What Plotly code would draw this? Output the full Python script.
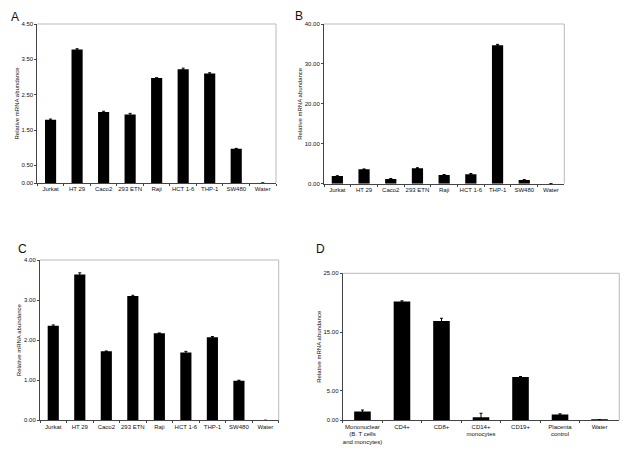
import plotly.graph_objects as go

cells_abc = ["Jurkat", "HT 29", "Caco2", "293 ETN", "Raji", "HCT 1-6", "THP-1", "SW480", "Water"]
vals_a = [1.79, 3.78, 2.01, 1.94, 2.97, 3.22, 3.10, 0.97, 0.0]
err_a = [0.02, 0.02, 0.02, 0.03, 0.01, 0.03, 0.02, 0.01, 0.0]
vals_b = [1.9, 3.6, 1.2, 3.9, 2.2, 2.35, 34.7, 0.93, 0.0]
err_b = [0.1, 0.1, 0.1, 0.1, 0.1, 0.2, 0.2, 0.1, 0.0]
vals_c = [2.36, 3.64, 1.72, 3.10, 2.17, 1.69, 2.07, 0.99, 0.0]
err_c = [0.02, 0.04, 0.01, 0.02, 0.01, 0.03, 0.02, 0.01, 0.0]
cells_d = ["Mononuclear<br>(B. T cells<br>and moncytes)", "CD4+", "CD8+", "CD14+<br>monocytes",
           "CD19+", "Placenta<br>control", "Water"]
vals_d = [1.5, 20.2, 16.9, 0.5, 7.35, 1.0, 0.02]
err_d = [0.25, 0.12, 0.45, 0.7, 0.1, 0.1, 0.1]

ticks_a = [0, 0.5, 1.5, 2.5, 3.5, 4.5]
ticks_b = [0, 10, 20, 30, 40]
ticks_c = [0, 1, 2, 3, 4]
ticks_d = [0, 5, 15, 25]
y_title = "Relative mRNA abundance"

OFF = 8  # page body margin
W, H = 630 - OFF, 452 - OFF
FONT = "Liberation Sans, Arial, sans-serif"

def px_x(a, b):
    return [(a - OFF) / W, (b - OFF) / W]

def px_y(top, bot):
    return [1 - (bot - OFF) / H, 1 - (top - OFF) / H]

panels = [
    (cells_abc, vals_a, err_a, ticks_a, [0, 4.5], (37.3, 276), (24, 183), 17),
    (cells_abc, vals_b, err_b, ticks_b, [0, 40], (324, 564.3), (24, 183.7), 300),
    (cells_abc, vals_c, err_c, ticks_c, [0, 4], (40, 278.7), (260, 420.3), 19),
    (cells_d, vals_d, err_d, ticks_d, [0, 25], (342.7, 619.3), (273.3, 420.3), 319),
]

fig = go.Figure()
layout = dict(
    width=W, height=H,
    margin=dict(l=0, r=0, t=0, b=0),
    paper_bgcolor="white", plot_bgcolor="white",
    showlegend=False,
    font=dict(family=FONT, size=6, color="#111"),
    bargap=0.58,
)
shapes = []
annotations = []
for i, (cats, vals, errs, ticks, rng, xd, yd, tx) in enumerate(panels):
    n = "" if i == 0 else str(i + 1)
    fig.add_trace(go.Bar(
        x=cats, y=vals, xaxis="x" + n, yaxis="y" + n,
        marker=dict(color="black", line=dict(width=0)),
        error_y=dict(type="data", array=errs, visible=True, color="black", thickness=1, width=1.5),
    ))
    layout["xaxis" + n] = dict(
        domain=px_x(*xd), anchor="y" + n, type="category",
        showline=True, linecolor="#444", linewidth=1,
        ticks="outside", ticklen=2, tickcolor="#444", tickson="boundaries",
        tickangle=0, automargin=False,
        showgrid=False, tickfont=dict(size=6, color="#111"), fixedrange=True,
    )
    layout["yaxis" + n] = dict(
        domain=px_y(*yd), anchor="x" + n, range=rng, automargin=False,
        tickvals=ticks, ticktext=[f"{t:.2f}" for t in ticks],
        showline=True, linecolor="#444", linewidth=1,
        ticks="outside", ticklen=2, tickcolor="#444",
        showgrid=False, zeroline=False, tickfont=dict(size=6, color="#111"),
    )
    annotations.append(dict(
        text=y_title, textangle=-90, x=(tx - OFF) / W, y=1 - ((yd[0] + yd[1]) / 2 - OFF) / H,
        xref="paper", yref="paper", showarrow=False, xanchor="center", yanchor="middle",
        font=dict(size=6, color="#111", family=FONT)))
    xr = "x" + n + " domain"
    yr = "y" + n + " domain"
    shapes.append(dict(type="line", xref=xr, yref=yr, x0=0, x1=1, y0=1, y1=1,
                       line=dict(color="#bbb", width=1)))
    shapes.append(dict(type="line", xref=xr, yref=yr, x0=1, x1=1, y0=0, y1=1,
                       line=dict(color="#bbb", width=1)))

letters = [("A", 15, 8), ("B", 299, 7), ("C", 23, 240), ("D", 320, 240)]
for t, x, y in letters:
    annotations.append(dict(
        text=t, x=(x - OFF) / W, y=1 - (y - OFF) / H, xref="paper", yref="paper", showarrow=False,
        font=dict(size=12, color="#111", family=FONT), xanchor="center", yanchor="top"))

layout["shapes"] = shapes
layout["annotations"] = annotations
fig.update_layout(**layout)
fig.write_html("out.html")
